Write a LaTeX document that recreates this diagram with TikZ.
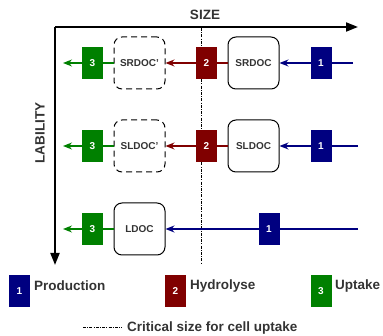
\documentclass[tikz,border=0pt]{standalone}
\usepackage{fontspec}
\setmainfont{Liberation Sans}
\usepackage{xcolor}
\usepackage{tikz}
\usetikzlibrary{positioning,arrows.meta}
\definecolor{prodblue}{HTML}{000080}
\definecolor{hydred}{HTML}{800000}
\definecolor{uptgreen}{HTML}{008000}
\definecolor{txtgray}{HTML}{333333}
\tikzset{
  % --- DOC pools ---------------------------------------------------------------
  pool/.style={rectangle,draw=black,line width=1pt,rounded corners=8pt,
               minimum width=51pt,minimum height=52pt,inner sep=0pt,
               font=\bfseries\fontsize{10}{12}\selectfont,text=txtgray},
  pooldash/.style={pool,dash pattern=on 6pt off 4pt},
  % --- processes -------------------------------------------------------------
  proc/.style={rectangle,minimum width=21pt,minimum height=32pt,inner sep=0pt,
               font=\bfseries\fontsize{10}{12}\selectfont,text=white},
  prod/.style={proc,fill=prodblue},
  hydr/.style={proc,fill=hydred},
  upt/.style={proc,fill=uptgreen},
  % --- fluxes ----------------------------------------------------------------
  flux/.style={line width=1.3pt,-{Stealth[length=9pt,width=7pt]}},
  axis/.style={line width=1.8pt,-{Triangle[length=12pt,width=9pt]}},
  crit/.style={line width=1pt,dash pattern=on 3pt off 1.2pt on 1pt off 1.2pt},
  lab/.style={font=\bfseries\fontsize{13.5}{15}\selectfont,text=txtgray,inner sep=0pt},
}
\begin{document}
\begin{tikzpicture}[x=1pt, y=-1pt]
  \useasboundingbox (0,0) rectangle (383,336);

  % axes
  \coordinate (o) at (55,27);
  \coordinate (xe) at (358,27);
  \coordinate (ye) at (55,265);
  \draw[axis] (o) -- (xe);
  \draw[axis] (o) -- (ye);
  \node[lab] (size) at (205,15) {SIZE};
  \node[lab,rotate=90] (lab) at (40,133) {LABILITY};

  % critical size
  \coordinate (c0) at (201,28);
  \coordinate (c1) at (201,264);
  \draw[crit] (c0) -- (c1);

  % pools
  \node[pool]     (srdoc)  at (253.5,63)  {SRDOC};
  \node[pooldash] (srdocp) at (139.5,63)  {SRDOC'};
  \node[pool]     (sldoc)  at (253.5,146) {SLDOC};
  \node[pooldash] (sldocp) at (139.5,146) {SLDOC'};
  \node[pool]     (ldoc)   at (139.5,229) {LDOC};

  % free ends
  \coordinate (in1) at (353,63);
  \coordinate (in2) at (358,146);
  \coordinate (in3) at (358,229);
  \coordinate (out1) at (63,63);
  \coordinate (out2) at (63,146);
  \coordinate (out3) at (63,229);

  % fluxes, boxes drawn on top
  \draw[flux,prodblue] (in1) -- (srdoc);
  \draw[flux,prodblue] (in2) -- (sldoc);
  \draw[flux,prodblue] (in3) -- (ldoc);
  \draw[flux,hydred] (srdoc) -- (srdocp);
  \draw[flux,hydred] (sldoc) -- (sldocp);
  \draw[flux,uptgreen] (srdocp) -- (out1);
  \draw[flux,uptgreen] (sldocp) -- (out2);
  \draw[flux,uptgreen] (ldoc) -- (out3);

  \node[prod] (p1) at (321,63)    {1};
  \node[prod] (p2) at (321,146)   {1};
  \node[prod] (p3) at (269,229)   {1};
  \node[hydr] (h1) at (206.5,63)  {2};
  \node[hydr] (h2) at (206.5,146) {2};
  \node[upt]  (u1) at (92.5,63)   {3};
  \node[upt]  (u2) at (92.5,146)  {3};
  \node[upt]  (u3) at (92.5,229)  {3};

  % legend
  \node[prod] (lp) at (19.5,291.5) {1};
  \node[hydr] (lh) at (175.5,291.5) {2};
  \node[upt]  (lu) at (321,291.5) {3};
  \node[lab,anchor=west] at (34,286)  {Production};
  \node[lab,anchor=west] at (190,286) {Hydrolyse};
  \node[lab,anchor=west] at (335,286) {Uptake};
  \coordinate (l0) at (83,328);
  \coordinate (l1) at (122,328);
  \draw[crit] (l0) -- (l1);
  \node[lab,anchor=west] (lc) at (127,328) {Critical size for cell uptake};
\end{tikzpicture}
\end{document}
